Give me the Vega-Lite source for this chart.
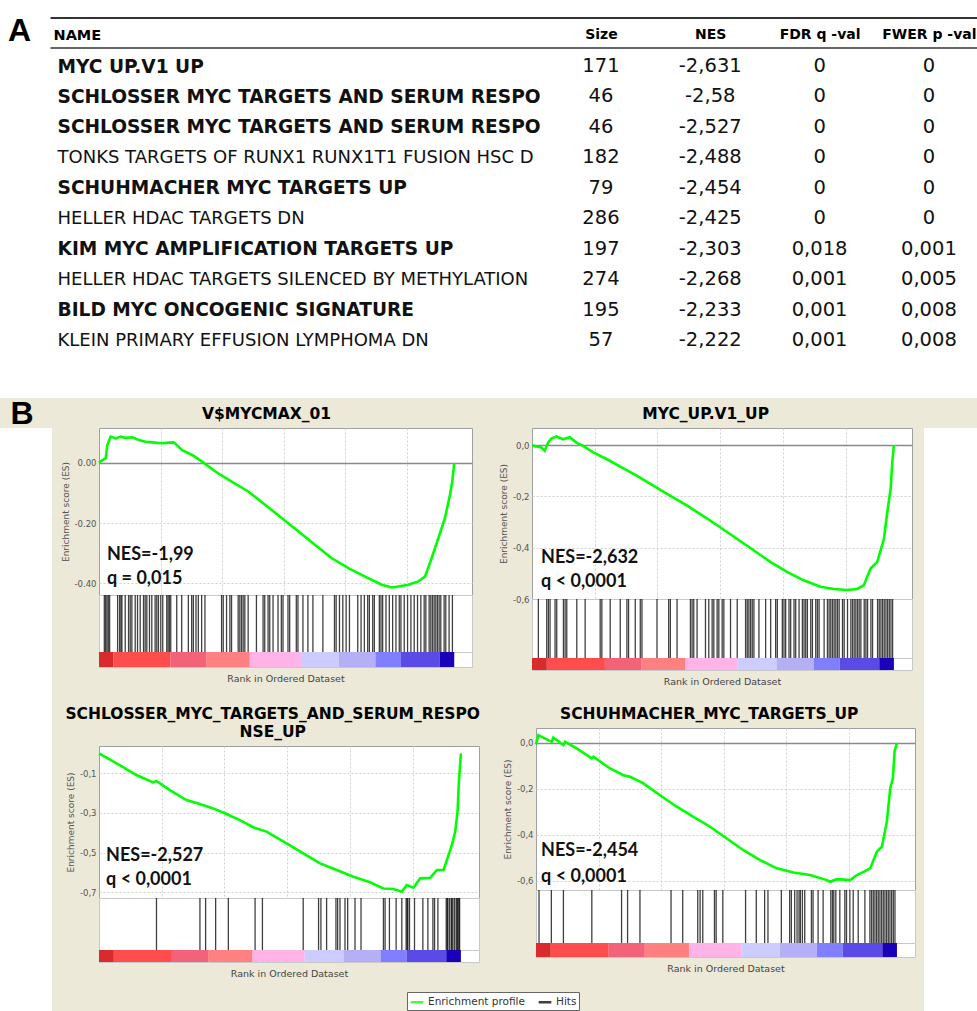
{
"$schema": "https://vega.github.io/schema/vega-lite/v6.json",
"background": "#ECE9D8",
"padding": 0,
"autosize": {"type": "pad"},
"config": {
  "locale": {"number": {"decimal": ",", "thousands": ".", "grouping": [3], "currency": ["", ""], "minus": "-"}},
  "font": "DejaVu Sans",
  "view": {"stroke": null},
  "title": {"font": "DejaVu Sans", "fontWeight": "bold", "fontSize": 15.5, "color": "#000000", "anchor": "middle", "frame": "bounds", "offset": 6},
  "axis": {"labelFont": "DejaVu Sans", "titleFont": "DejaVu Sans"},
  "axisQuantitative": {"labelOverlap": false},
  "axisY": {"labelOverlap": false},
  "legend": {"orient": "none", "legendX": 407, "legendY": 992, "direction": "horizontal", "symbolType": "stroke", "symbolStrokeWidth": 2.5, "symbolSize": 160, "labelFont": "DejaVu Sans", "labelFontSize": 10.5, "labelColor": "#333333", "strokeColor": "#666666", "fillColor": "#ffffff", "padding": 2, "columnPadding": 8, "labelOffset": 3}
},
"datasets": {
  "table": [
    {"name": "MYC UP.V1 UP", "Size": 171, "NES": -2.631, "FDR q -val": 0, "FWER p -val": 0},
    {"name": "SCHLOSSER MYC TARGETS AND SERUM RESPONSE DN", "Size": 46, "NES": -2.58, "FDR q -val": 0, "FWER p -val": 0},
    {"name": "SCHLOSSER MYC TARGETS AND SERUM RESPONSE UP", "Size": 46, "NES": -2.527, "FDR q -val": 0, "FWER p -val": 0},
    {"name": "TONKS TARGETS OF RUNX1 RUNX1T1 FUSION HSC DN", "Size": 182, "NES": -2.488, "FDR q -val": 0, "FWER p -val": 0},
    {"name": "SCHUHMACHER MYC TARGETS UP", "Size": 79, "NES": -2.454, "FDR q -val": 0, "FWER p -val": 0},
    {"name": "HELLER HDAC TARGETS DN", "Size": 286, "NES": -2.425, "FDR q -val": 0, "FWER p -val": 0},
    {"name": "KIM MYC AMPLIFICATION TARGETS UP", "Size": 197, "NES": -2.303, "FDR q -val": 0.018, "FWER p -val": 0.001},
    {"name": "HELLER HDAC TARGETS SILENCED BY METHYLATION", "Size": 274, "NES": -2.268, "FDR q -val": 0.001, "FWER p -val": 0.005},
    {"name": "BILD MYC ONCOGENIC SIGNATURE", "Size": 195, "NES": -2.233, "FDR q -val": 0.001, "FWER p -val": 0.008},
    {"name": "KLEIN PRIMARY EFFUSION LYMPHOMA DN", "Size": 57, "NES": -2.222, "FDR q -val": 0.001, "FWER p -val": 0.008}
  ],
  "columns": [
    {"column": "Size", "order": 1},
    {"column": "NES", "order": 2},
    {"column": "FDR q -val", "order": 3},
    {"column": "FWER p -val", "order": 4}
  ],
  "bar": [
    {"start": 0, "end": 820, "metric": 2.0},
    {"start": 820, "end": 4030, "metric": 1.5},
    {"start": 4030, "end": 6030, "metric": 1.0},
    {"start": 6030, "end": 8490, "metric": 0.6},
    {"start": 8490, "end": 11370, "metric": 0.2},
    {"start": 11370, "end": 13510, "metric": -0.2},
    {"start": 13510, "end": 15560, "metric": -0.6},
    {"start": 15560, "end": 17000, "metric": -1.0},
    {"start": 17000, "end": 19190, "metric": -1.5},
    {"start": 19190, "end": 20000, "metric": -2.0}
  ],
  "es1": [
    {"rank": 0, "es": 0.0}, {"rank": 187, "es": 0.009}, {"rank": 375, "es": 0.015}, {"rank": 468, "es": 0.059}, {"rank": 655, "es": 0.087}, {"rank": 936, "es": 0.081}, {"rank": 1217, "es": 0.087}, {"rank": 1498, "es": 0.083}, {"rank": 1873, "es": 0.085}, {"rank": 2247, "es": 0.076}, {"rank": 2622, "es": 0.070}, {"rank": 2996, "es": 0.068}, {"rank": 3558, "es": 0.065}, {"rank": 3933, "es": 0.067}, {"rank": 4213, "es": 0.068}, {"rank": 4682, "es": 0.042}, {"rank": 5244, "es": 0.026}, {"rank": 5806, "es": 0.004}, {"rank": 6554, "es": -0.029}, {"rank": 7491, "es": -0.063}, {"rank": 8427, "es": -0.096}, {"rank": 9363, "es": -0.140}, {"rank": 10300, "es": -0.184}, {"rank": 11236, "es": -0.228}, {"rank": 12172, "es": -0.273}, {"rank": 13109, "es": -0.317}, {"rank": 14045, "es": -0.350}, {"rank": 14981, "es": -0.378}, {"rank": 15918, "es": -0.405}, {"rank": 16480, "es": -0.414}, {"rank": 16854, "es": -0.411}, {"rank": 17416, "es": -0.405}, {"rank": 17978, "es": -0.394}, {"rank": 18352, "es": -0.378}, {"rank": 18727, "es": -0.317}, {"rank": 19101, "es": -0.251}, {"rank": 19476, "es": -0.184}, {"rank": 19757, "es": -0.107}, {"rank": 19888, "es": -0.063}, {"rank": 20000, "es": 0.0}
  ],
  "es2": [
    {"rank": 0, "es": 0.0}, {"rank": 240, "es": -0.005}, {"rank": 517, "es": -0.009}, {"rank": 702, "es": -0.022}, {"rank": 887, "es": 0.010}, {"rank": 1071, "es": 0.026}, {"rank": 1348, "es": 0.034}, {"rank": 1718, "es": 0.023}, {"rank": 2087, "es": 0.031}, {"rank": 2457, "es": 0.010}, {"rank": 2826, "es": -0.003}, {"rank": 3380, "es": -0.028}, {"rank": 4119, "es": -0.054}, {"rank": 4858, "es": -0.083}, {"rank": 5781, "es": -0.119}, {"rank": 6705, "es": -0.158}, {"rank": 7628, "es": -0.197}, {"rank": 8552, "es": -0.235}, {"rank": 9475, "es": -0.277}, {"rank": 10399, "es": -0.320}, {"rank": 11322, "es": -0.365}, {"rank": 12246, "es": -0.410}, {"rank": 13169, "es": -0.455}, {"rank": 14093, "es": -0.494}, {"rank": 15016, "es": -0.527}, {"rank": 15940, "es": -0.552}, {"rank": 16679, "es": -0.561}, {"rank": 17417, "es": -0.565}, {"rank": 17971, "es": -0.561}, {"rank": 18341, "es": -0.546}, {"rank": 18710, "es": -0.481}, {"rank": 19080, "es": -0.455}, {"rank": 19449, "es": -0.365}, {"rank": 19634, "es": -0.261}, {"rank": 19818, "es": -0.171}, {"rank": 19910, "es": -0.067}, {"rank": 20000, "es": 0.0}
  ],
  "es3": [
    {"rank": 0, "es": 0.0}, {"rank": 1144, "es": -0.059}, {"rank": 2066, "es": -0.109}, {"rank": 2989, "es": -0.146}, {"rank": 3173, "es": -0.139}, {"rank": 3911, "es": -0.185}, {"rank": 4834, "es": -0.235}, {"rank": 5572, "es": -0.255}, {"rank": 6310, "es": -0.277}, {"rank": 7048, "es": -0.305}, {"rank": 7786, "es": -0.336}, {"rank": 8524, "es": -0.372}, {"rank": 9262, "es": -0.394}, {"rank": 10369, "es": -0.453}, {"rank": 11291, "es": -0.503}, {"rank": 12214, "es": -0.554}, {"rank": 13136, "es": -0.587}, {"rank": 14059, "es": -0.621}, {"rank": 14981, "es": -0.649}, {"rank": 15719, "es": -0.680}, {"rank": 16273, "es": -0.683}, {"rank": 16734, "es": -0.696}, {"rank": 17011, "es": -0.663}, {"rank": 17380, "es": -0.676}, {"rank": 17749, "es": -0.629}, {"rank": 18302, "es": -0.626}, {"rank": 18671, "es": -0.587}, {"rank": 19040, "es": -0.587}, {"rank": 19317, "es": -0.512}, {"rank": 19502, "es": -0.461}, {"rank": 19686, "es": -0.394}, {"rank": 19815, "es": -0.294}, {"rank": 19889, "es": -0.143}, {"rank": 20000, "es": 0.0}
  ],
  "es4": [
    {"rank": 0, "es": -0.007}, {"rank": 129, "es": 0.033}, {"rank": 869, "es": 0.004}, {"rank": 961, "es": 0.022}, {"rank": 1515, "es": -0.010}, {"rank": 1608, "es": 0.004}, {"rank": 2255, "es": -0.025}, {"rank": 3086, "es": -0.068}, {"rank": 3179, "es": -0.061}, {"rank": 4103, "es": -0.112}, {"rank": 4842, "es": -0.141}, {"rank": 5211, "es": -0.148}, {"rank": 5951, "es": -0.177}, {"rank": 6875, "es": -0.228}, {"rank": 7799, "es": -0.278}, {"rank": 8723, "es": -0.322}, {"rank": 9647, "es": -0.365}, {"rank": 10571, "es": -0.416}, {"rank": 11495, "es": -0.467}, {"rank": 12419, "es": -0.510}, {"rank": 13343, "es": -0.546}, {"rank": 14267, "es": -0.564}, {"rank": 15191, "es": -0.575}, {"rank": 16115, "es": -0.597}, {"rank": 16299, "es": -0.604}, {"rank": 16669, "es": -0.593}, {"rank": 17409, "es": -0.597}, {"rank": 17778, "es": -0.575}, {"rank": 18147, "es": -0.561}, {"rank": 18518, "es": -0.546}, {"rank": 18887, "es": -0.474}, {"rank": 19164, "es": -0.452}, {"rank": 19441, "es": -0.343}, {"rank": 19626, "es": -0.199}, {"rank": 19774, "es": -0.155}, {"rank": 19866, "es": -0.039}, {"rank": 20000, "es": 0.0}
  ],
  "hits1": [
    {"rank": 300}, {"rank": 374}, {"rank": 449}, {"rank": 524}, {"rank": 598}, {"rank": 1047}, {"rank": 1159}, {"rank": 1234}, {"rank": 1290}, {"rank": 1477}, {"rank": 1664}, {"rank": 1758}, {"rank": 1851}, {"rank": 2038}, {"rank": 2169}, {"rank": 2319}, {"rank": 2506}, {"rank": 2599}, {"rank": 2693}, {"rank": 2842}, {"rank": 2973}, {"rank": 3160}, {"rank": 3254}, {"rank": 3347}, {"rank": 3478}, {"rank": 3590}, {"rank": 3815}, {"rank": 3890}, {"rank": 3965}, {"rank": 4039}, {"rank": 4376}, {"rank": 4656}, {"rank": 5030}, {"rank": 5217}, {"rank": 5311}, {"rank": 5460}, {"rank": 5591}, {"rank": 5778}, {"rank": 5965}, {"rank": 6900}, {"rank": 6994}, {"rank": 7181}, {"rank": 7368}, {"rank": 7462}, {"rank": 7836}, {"rank": 7929}, {"rank": 8023}, {"rank": 8116}, {"rank": 8210}, {"rank": 8397}, {"rank": 8864}, {"rank": 9238}, {"rank": 9331}, {"rank": 9518}, {"rank": 9612}, {"rank": 9799}, {"rank": 10079}, {"rank": 10266}, {"rank": 10360}, {"rank": 10640}, {"rank": 10734}, {"rank": 11108}, {"rank": 11201}, {"rank": 11482}, {"rank": 11762}, {"rank": 12043}, {"rank": 12604}, {"rank": 13258}, {"rank": 13352}, {"rank": 13539}, {"rank": 13726}, {"rank": 13913}, {"rank": 14100}, {"rank": 14567}, {"rank": 14754}, {"rank": 14941}, {"rank": 15128}, {"rank": 15222}, {"rank": 15409}, {"rank": 15502}, {"rank": 15783}, {"rank": 15876}, {"rank": 15970}, {"rank": 16157}, {"rank": 16344}, {"rank": 16531}, {"rank": 16718}, {"rank": 16905}, {"rank": 16998}, {"rank": 17185}, {"rank": 17372}, {"rank": 17559}, {"rank": 17746}, {"rank": 17933}, {"rank": 18120}, {"rank": 18307}, {"rank": 18401}, {"rank": 18588}, {"rank": 18682}, {"rank": 18775}, {"rank": 18869}, {"rank": 18962}, {"rank": 19056}, {"rank": 19150}, {"rank": 19243}, {"rank": 19430}, {"rank": 19523}, {"rank": 19710}, {"rank": 19897}
  ],
  "hits2": [
    {"rank": 351}, {"rank": 813}, {"rank": 905}, {"rank": 997}, {"rank": 1274}, {"rank": 1367}, {"rank": 1736}, {"rank": 1829}, {"rank": 1921}, {"rank": 2475}, {"rank": 2937}, {"rank": 3768}, {"rank": 3860}, {"rank": 4322}, {"rank": 4876}, {"rank": 5245}, {"rank": 5338}, {"rank": 5707}, {"rank": 5984}, {"rank": 6077}, {"rank": 6908}, {"rank": 7554}, {"rank": 7647}, {"rank": 8016}, {"rank": 8755}, {"rank": 8847}, {"rank": 8939}, {"rank": 9124}, {"rank": 9586}, {"rank": 9770}, {"rank": 9955}, {"rank": 10048}, {"rank": 10232}, {"rank": 10325}, {"rank": 10509}, {"rank": 10602}, {"rank": 10971}, {"rank": 11341}, {"rank": 11803}, {"rank": 11895}, {"rank": 11987}, {"rank": 12079}, {"rank": 12172}, {"rank": 12264}, {"rank": 12541}, {"rank": 12911}, {"rank": 13188}, {"rank": 13465}, {"rank": 13557}, {"rank": 13834}, {"rank": 13926}, {"rank": 14019}, {"rank": 14203}, {"rank": 14296}, {"rank": 14480}, {"rank": 14573}, {"rank": 14758}, {"rank": 14942}, {"rank": 15035}, {"rank": 15127}, {"rank": 15219}, {"rank": 15404}, {"rank": 15496}, {"rank": 15681}, {"rank": 15773}, {"rank": 15866}, {"rank": 16143}, {"rank": 16327}, {"rank": 16420}, {"rank": 16512}, {"rank": 16605}, {"rank": 16697}, {"rank": 16789}, {"rank": 16882}, {"rank": 16974}, {"rank": 17159}, {"rank": 17251}, {"rank": 17436}, {"rank": 17620}, {"rank": 17713}, {"rank": 17805}, {"rank": 17897}, {"rank": 17990}, {"rank": 18082}, {"rank": 18175}, {"rank": 18359}, {"rank": 18452}, {"rank": 18544}, {"rank": 18729}, {"rank": 18821}, {"rank": 19098}, {"rank": 19190}, {"rank": 19283}, {"rank": 19375}, {"rank": 19467}, {"rank": 19560}, {"rank": 19652}, {"rank": 19744}, {"rank": 19837}, {"rank": 19929}
  ],
  "hits3": [
    {"rank": 3177}, {"rank": 5578}, {"rank": 5892}, {"rank": 6446}, {"rank": 7148}, {"rank": 8625}, {"rank": 9031}, {"rank": 11285}, {"rank": 12134}, {"rank": 12264}, {"rank": 12578}, {"rank": 13095}, {"rank": 13188}, {"rank": 13317}, {"rank": 13594}, {"rank": 13742}, {"rank": 14148}, {"rank": 14480}, {"rank": 15718}, {"rank": 15810}, {"rank": 16050}, {"rank": 16420}, {"rank": 16734}, {"rank": 16974}, {"rank": 17030}, {"rank": 17067}, {"rank": 17159}, {"rank": 17436}, {"rank": 17897}, {"rank": 18175}, {"rank": 18452}, {"rank": 18544}, {"rank": 18729}, {"rank": 19190}, {"rank": 19246}, {"rank": 19283}, {"rank": 19375}, {"rank": 19467}, {"rank": 19504}, {"rank": 19560}, {"rank": 19652}, {"rank": 19744}, {"rank": 19799}, {"rank": 19837}, {"rank": 19892}, {"rank": 19929}
  ],
  "hits4": [
    {"rank": 167}, {"rank": 852}, {"rank": 1519}, {"rank": 3093}, {"rank": 4741}, {"rank": 5074}, {"rank": 5760}, {"rank": 7482}, {"rank": 8130}, {"rank": 8963}, {"rank": 9093}, {"rank": 9241}, {"rank": 9889}, {"rank": 9982}, {"rank": 10352}, {"rank": 11612}, {"rank": 12205}, {"rank": 12668}, {"rank": 12853}, {"rank": 13594}, {"rank": 14056}, {"rank": 14149}, {"rank": 14334}, {"rank": 14464}, {"rank": 14575}, {"rank": 14649}, {"rank": 14760}, {"rank": 14890}, {"rank": 15260}, {"rank": 15353}, {"rank": 15631}, {"rank": 15909}, {"rank": 16335}, {"rank": 16427}, {"rank": 16501}, {"rank": 16612}, {"rank": 16835}, {"rank": 17112}, {"rank": 17205}, {"rank": 17390}, {"rank": 17576}, {"rank": 17853}, {"rank": 18224}, {"rank": 18501}, {"rank": 18594}, {"rank": 18687}, {"rank": 18779}, {"rank": 18872}, {"rank": 18964}, {"rank": 19057}, {"rank": 19150}, {"rank": 19242}, {"rank": 19335}, {"rank": 19427}, {"rank": 19520}, {"rank": 19612}, {"rank": 19705}, {"rank": 19798}, {"rank": 19890}
  ]
},
"spacing": 0,
"vconcat": [
  {
    "width": 977, "height": 398,
    "view": {"fill": "#ffffff", "stroke": null},
    "title": {"text": "A", "anchor": "start", "frame": "group", "font": "Liberation Sans", "fontSize": 32, "fontWeight": "bold", "offset": -48, "dx": 8},
    "data": {"name": "table"},
    "transform": [
      {"fold": ["Size", "NES", "FDR q -val", "FWER p -val"], "as": ["column", "value"]},
      {"lookup": "column", "from": {"data": {"name": "columns"}, "key": "column", "fields": ["order"]}}
    ],
    "layer": [
      {
        "mark": {"type": "text", "font": "DejaVu Sans", "fontSize": 19.5, "color": "#111111", "baseline": "middle", "align": "center"},
        "encoding": {
          "x": {"field": "order", "type": "quantitative", "scale": {"domain": [-4.04, 4.44], "range": [50, 977], "nice": false, "zero": false},
                "axis": {"orient": "top", "offset": -17.5, "title": null, "values": [1, 2, 3, 4], "labelExpr": "['', 'Size', 'NES', 'FDR q -val', 'FWER p -val'][datum.value]", "labelAngle": 0, "labelFont": "DejaVu Sans", "labelFontWeight": "bold", "labelFontSize": 14, "labelColor": "#000000", "labelBaseline": "bottom", "labelPadding": -24, "labelOverlap": false, "ticks": false, "domain": true, "domainColor": "#333333", "domainWidth": 2, "grid": false}},
          "y": {"field": "name", "type": "nominal", "sort": null, "scale": {"type": "point", "range": [66, 340], "padding": 0},
                "axis": {"orient": "left", "title": "NAME", "titleAngle": 0, "titleAlign": "left", "titleBaseline": "middle", "titleX": 53, "titleY": 35, "titleFont": "DejaVu Sans", "titleFontWeight": "bold", "titleFontSize": 14.5, "titleColor": "#000000",
                         "labelAlign": "left", "labelBaseline": "middle", "labelPadding": -57, "labelLimit": 700, "labelFont": "DejaVu Sans", "labelColor": "#111111",
                         "labelExpr": "truncate(datum.label, indexof(datum.label, 'MYC') >= 0 ? 37 : 43, 'right', '')",
                         "labelFontSize": {"condition": {"test": "indexof(datum.value, 'MYC') >= 0", "value": 18.6}, "value": 18},
                         "labelFontWeight": {"condition": {"test": "indexof(datum.value, 'MYC') >= 0", "value": "bold"}, "value": "normal"},
                         "ticks": false, "domain": false, "grid": false}},
          "text": {"field": "value", "type": "quantitative", "format": ".3~f"}
        }
      },
      {
        "mark": {"type": "text", "text": ""},
        "encoding": {
          "x": {"field": "order", "type": "quantitative",
                "axis": {"orient": "bottom", "offset": -350.5, "title": null, "labels": false, "ticks": false, "domain": true, "domainColor": "#333333", "domainWidth": 1.5, "grid": false}}
        }
      }
    ],
    "resolve": {"axis": {"x": "independent"}}
  },
  {
    "spacing": 8,
    "hconcat": [
      {"width": 52, "height": 583, "view": {"fill": "#ffffff", "stroke": null},
       "title": {"text": "B", "anchor": "middle", "frame": "group", "font": "Liberation Sans", "fontSize": 32, "fontWeight": "bold", "baseline": "bottom", "offset": -35, "dx": -4, "color": "#000000"},
       "data": {"values": [{"label": ""}]},
       "mark": {"type": "text"}, "encoding": {"text": {"field": "label"}}},
      {
        "spacing": 20,
        "vconcat": [
          {
            "spacing": 25,
            "hconcat": [
              {
                "spacing": 0, "bounds": "flush",
                "vconcat": [
                  {
                    "width": 373, "height": 167,
                    "title": {"text": "V$MYCMAX_01"},
                    "view": {"fill": "#ffffff", "stroke": "#a0a0a0"},
                    "layer": [
                      {"data": {"name": "es1"}, "mark": {"type": "line", "strokeWidth": 2.6},
                       "encoding": {
                         "x": {"field": "rank", "type": "quantitative", "scale": {"domain": [0, 21000], "nice": false}, "axis": {"values": [3465, 6930, 10395, 13860, 17325], "grid": true, "labels": false, "ticks": false, "domain": false, "title": null, "gridDash": [2, 2], "gridColor": "#d0d0d0"}},
                         "y": {"field": "es", "type": "quantitative", "scale": {"domain": [-0.439, 0.1156], "nice": false, "zero": false}, "axis": {"values": [0.1, 0.05, 0, -0.05, -0.1, -0.15, -0.2, -0.25, -0.3, -0.35, -0.4], "labelExpr": "replace(format(datum.value, '.2f'), ',', '.')", "labelOverlap": false, "title": "Enrichment score (ES)", "grid": true,
                               "gridDash": {"condition": {"test": "datum.value === 0", "value": []}, "value": [2, 2]}, "gridColor": {"condition": {"test": "datum.value === 0", "value": "#8a8a8a"}, "value": "#d0d0d0"}, "gridWidth": {"condition": {"test": "datum.value === 0", "value": 1.5}, "value": 1},
                               "ticks": false, "domain": false, "labelFontSize": 8.5, "labelColor": "#555555", "titleFontSize": 9, "titleFontWeight": "normal", "titleColor": "#555555", "labelPadding": 3, "titlePadding": 4}},
                         "stroke": {"datum": "Enrichment profile", "type": "nominal", "scale": {"domain": ["Enrichment profile", "Hits"], "range": ["#00ff00", "#000000"]}, "legend": {"title": null}}
                       }},
                      {"data": {"values": [{"lines": ["NES=-1,99", "q = 0,015"]}]}, "mark": {"type": "text", "align": "left", "baseline": "middle", "font": "Lato", "fontWeight": "bold", "fontSize": 18, "lineHeight": 24, "color": "#111111"},
                       "encoding": {"x": {"datum": 450}, "y": {"datum": -0.306}, "text": {"field": "lines"}}}
                    ]
                  },
                  {
                    "width": 373, "height": 57,
                    "view": {"fill": "#ffffff", "stroke": "#c8c8c8"},
                    "data": {"name": "hits1"},
                    "mark": {"type": "rule", "strokeWidth": 1.3, "opacity": 0.75},
                    "encoding": {
                      "x": {"field": "rank", "type": "quantitative", "scale": {"domain": [0, 21000], "nice": false}, "axis": null},
                      "stroke": {"datum": "Hits", "type": "nominal", "scale": {"domain": ["Enrichment profile", "Hits"], "range": ["#00ff00", "#000000"]}, "legend": {"title": null}}
                    }
                  },
                  {
                    "width": 373, "height": 15,
                    "view": {"fill": "#ffffff", "stroke": "#c8c8c8"},
                    "data": {"name": "bar"},
                    "mark": {"type": "rect"},
                    "encoding": {
                      "x": {"field": "start", "type": "quantitative", "scale": {"domain": [0, 21000], "nice": false}, "axis": {"title": "Rank in Ordered Dataset", "labels": false, "ticks": false, "domain": false, "grid": false, "titleFontSize": 9.5, "titleFontWeight": "normal", "titleColor": "#444444", "titlePadding": 6}},
                      "x2": {"field": "end"},
                      "fill": {"field": "metric", "type": "quantitative", "scale": {"domain": [-2, -1.5, -1, -0.6, -0.2, 0.2, 0.6, 1, 1.5, 2], "range": ["#1a00b8", "#5a4ae6", "#7f7fff", "#b5b0f5", "#ccccff", "#ffb3e6", "#ff8080", "#f2637a", "#ff4d4d", "#d92b2b"]}, "legend": null}
                    }
                  }
                ]
              },
              {
                "spacing": 0, "bounds": "flush",
                "vconcat": [
                  {
                    "width": 380, "height": 171,
                    "title": {"text": "MYC_UP.V1_UP"},
                    "view": {"fill": "#ffffff", "stroke": "#a0a0a0"},
                    "layer": [
                      {"data": {"name": "es2"}, "mark": {"type": "line", "strokeWidth": 2.6},
                       "encoding": {
                         "x": {"field": "rank", "type": "quantitative", "scale": {"domain": [0, 21000], "nice": false}, "axis": {"values": [3465, 6930, 10395, 13860, 17325], "grid": true, "labels": false, "ticks": false, "domain": false, "title": null, "gridDash": [2, 2], "gridColor": "#d0d0d0"}},
                         "y": {"field": "es", "type": "quantitative", "scale": {"domain": [-0.6, 0.067], "nice": false, "zero": false}, "axis": {"values": [0, -0.1, -0.2, -0.3, -0.4, -0.5, -0.6], "format": ".1f", "labelOverlap": false, "title": "Enrichment score (ES)", "grid": true,
                               "gridDash": {"condition": {"test": "datum.value === 0", "value": []}, "value": [2, 2]}, "gridColor": {"condition": {"test": "datum.value === 0", "value": "#8a8a8a"}, "value": "#d0d0d0"}, "gridWidth": {"condition": {"test": "datum.value === 0", "value": 1.5}, "value": 1},
                               "ticks": false, "domain": false, "labelFontSize": 8.5, "labelColor": "#555555", "titleFontSize": 9, "titleFontWeight": "normal", "titleColor": "#555555", "labelPadding": 3, "titlePadding": 4}},
                         "stroke": {"datum": "Enrichment profile", "type": "nominal", "scale": {"domain": ["Enrichment profile", "Hits"], "range": ["#00ff00", "#000000"]}, "legend": {"title": null}}
                       }},
                      {"data": {"values": [{"lines": ["NES=-2,632", "q < 0,0001"]}]}, "mark": {"type": "text", "align": "left", "baseline": "middle", "font": "Lato", "fontWeight": "bold", "fontSize": 18, "lineHeight": 24, "color": "#111111"},
                       "encoding": {"x": {"datum": 500}, "y": {"datum": -0.44}, "text": {"field": "lines"}}}
                    ]
                  },
                  {
                    "width": 380, "height": 59,
                    "view": {"fill": "#ffffff", "stroke": "#c8c8c8"},
                    "data": {"name": "hits2"},
                    "mark": {"type": "rule", "strokeWidth": 1.3, "opacity": 0.75},
                    "encoding": {
                      "x": {"field": "rank", "type": "quantitative", "scale": {"domain": [0, 21000], "nice": false}, "axis": null},
                      "stroke": {"datum": "Hits", "type": "nominal", "scale": {"domain": ["Enrichment profile", "Hits"], "range": ["#00ff00", "#000000"]}, "legend": {"title": null}}
                    }
                  },
                  {
                    "width": 380, "height": 12,
                    "view": {"fill": "#ffffff", "stroke": "#c8c8c8"},
                    "data": {"name": "bar"},
                    "mark": {"type": "rect"},
                    "encoding": {
                      "x": {"field": "start", "type": "quantitative", "scale": {"domain": [0, 21000], "nice": false}, "axis": {"title": "Rank in Ordered Dataset", "labels": false, "ticks": false, "domain": false, "grid": false, "titleFontSize": 9.5, "titleFontWeight": "normal", "titleColor": "#444444", "titlePadding": 6}},
                      "x2": {"field": "end"},
                      "fill": {"field": "metric", "type": "quantitative", "scale": {"domain": [-2, -1.5, -1, -0.6, -0.2, 0.2, 0.6, 1, 1.5, 2], "range": ["#1a00b8", "#5a4ae6", "#7f7fff", "#b5b0f5", "#ccccff", "#ffb3e6", "#ff8080", "#f2637a", "#ff4d4d", "#d92b2b"]}, "legend": null}
                    }
                  }
                ]
              }
            ]
          },
          {
            "spacing": 21,
            "hconcat": [
              {
                "spacing": 0, "bounds": "flush",
                "vconcat": [
                  {"width": 380, "height": 18, "data": {"values": [{"label": ""}]}, "mark": {"type": "text"}, "encoding": {"text": {"field": "label"}}},
                  {
                    "width": 380, "height": 152,
                    "title": {"text": ["SCHLOSSER_MYC_TARGETS_AND_SERUM_RESPO", "NSE_UP"], "lineHeight": 18},
                    "view": {"fill": "#ffffff", "stroke": "#a0a0a0"},
                    "layer": [
                      {"data": {"name": "es3"}, "mark": {"type": "line", "strokeWidth": 2.6},
                       "encoding": {
                         "x": {"field": "rank", "type": "quantitative", "scale": {"domain": [0, 21000], "nice": false}, "axis": {"values": [3465, 6930, 10395, 13860, 17325], "grid": true, "labels": false, "ticks": false, "domain": false, "title": null, "gridDash": [2, 2], "gridColor": "#d0d0d0"}},
                         "y": {"field": "es", "type": "quantitative", "scale": {"domain": [-0.728, 0.037], "nice": false, "zero": false}, "axis": {"values": [0, -0.1, -0.2, -0.3, -0.4, -0.5, -0.6, -0.7], "format": ".1f", "labelOverlap": false, "title": "Enrichment score (ES)", "grid": true,
                               "gridDash": {"condition": {"test": "datum.value === 0", "value": []}, "value": [2, 2]}, "gridColor": {"condition": {"test": "datum.value === 0", "value": "#8a8a8a"}, "value": "#d0d0d0"}, "gridWidth": {"condition": {"test": "datum.value === 0", "value": 1.5}, "value": 1},
                               "ticks": false, "domain": false, "labelFontSize": 8.5, "labelColor": "#555555", "titleFontSize": 9, "titleFontWeight": "normal", "titleColor": "#555555", "labelPadding": 3, "titlePadding": 4}},
                         "stroke": {"datum": "Enrichment profile", "type": "nominal", "scale": {"domain": ["Enrichment profile", "Hits"], "range": ["#00ff00", "#000000"]}, "legend": {"title": null}}
                       }},
                      {"data": {"values": [{"lines": ["NES=-2,527", "q < 0,0001"]}]}, "mark": {"type": "text", "align": "left", "baseline": "middle", "font": "Lato", "fontWeight": "bold", "fontSize": 18, "lineHeight": 24, "color": "#111111"},
                       "encoding": {"x": {"datum": 390}, "y": {"datum": -0.517}, "text": {"field": "lines"}}}
                    ]
                  },
                  {
                    "width": 380, "height": 52,
                    "view": {"fill": "#ffffff", "stroke": "#c8c8c8"},
                    "data": {"name": "hits3"},
                    "mark": {"type": "rule", "strokeWidth": 1.3, "opacity": 0.75},
                    "encoding": {
                      "x": {"field": "rank", "type": "quantitative", "scale": {"domain": [0, 21000], "nice": false}, "axis": null},
                      "stroke": {"datum": "Hits", "type": "nominal", "scale": {"domain": ["Enrichment profile", "Hits"], "range": ["#00ff00", "#000000"]}, "legend": {"title": null}}
                    }
                  },
                  {
                    "width": 380, "height": 12,
                    "view": {"fill": "#ffffff", "stroke": "#c8c8c8"},
                    "data": {"name": "bar"},
                    "mark": {"type": "rect"},
                    "encoding": {
                      "x": {"field": "start", "type": "quantitative", "scale": {"domain": [0, 21000], "nice": false}, "axis": {"title": "Rank in Ordered Dataset", "labels": false, "ticks": false, "domain": false, "grid": false, "titleFontSize": 9.5, "titleFontWeight": "normal", "titleColor": "#444444", "titlePadding": 6}},
                      "x2": {"field": "end"},
                      "fill": {"field": "metric", "type": "quantitative", "scale": {"domain": [-2, -1.5, -1, -0.6, -0.2, 0.2, 0.6, 1, 1.5, 2], "range": ["#1a00b8", "#5a4ae6", "#7f7fff", "#b5b0f5", "#ccccff", "#ffb3e6", "#ff8080", "#f2637a", "#ff4d4d", "#d92b2b"]}, "legend": null}
                    }
                  }
                ]
              },
              {
                "spacing": 0, "bounds": "flush",
                "vconcat": [
                  {
                    "width": 379, "height": 162,
                    "title": {"text": "SCHUHMACHER_MYC_TARGETS_UP"},
                    "view": {"fill": "#ffffff", "stroke": "#a0a0a0"},
                    "layer": [
                      {"data": {"name": "es4"}, "mark": {"type": "line", "strokeWidth": 2.6},
                       "encoding": {
                         "x": {"field": "rank", "type": "quantitative", "scale": {"domain": [0, 21000], "nice": false}, "axis": {"values": [3465, 6930, 10395, 13860, 17325], "grid": true, "labels": false, "ticks": false, "domain": false, "title": null, "gridDash": [2, 2], "gridColor": "#d0d0d0"}},
                         "y": {"field": "es", "type": "quantitative", "scale": {"domain": [-0.64, 0.064], "nice": false, "zero": false}, "axis": {"values": [0, -0.1, -0.2, -0.3, -0.4, -0.5, -0.6], "format": ".1f", "labelOverlap": false, "title": "Enrichment score (ES)", "grid": true,
                               "gridDash": {"condition": {"test": "datum.value === 0", "value": []}, "value": [2, 2]}, "gridColor": {"condition": {"test": "datum.value === 0", "value": "#8a8a8a"}, "value": "#d0d0d0"}, "gridWidth": {"condition": {"test": "datum.value === 0", "value": 1.5}, "value": 1},
                               "ticks": false, "domain": false, "labelFontSize": 8.5, "labelColor": "#555555", "titleFontSize": 9, "titleFontWeight": "normal", "titleColor": "#555555", "labelPadding": 3, "titlePadding": 4}},
                         "stroke": {"datum": "Enrichment profile", "type": "nominal", "scale": {"domain": ["Enrichment profile", "Hits"], "range": ["#00ff00", "#000000"]}, "legend": {"title": null}}
                       }},
                      {"data": {"values": [{"lines": ["NES=-2,454", "q < 0,0001"]}]}, "mark": {"type": "text", "align": "left", "baseline": "middle", "font": "Lato", "fontWeight": "bold", "fontSize": 18, "lineHeight": 26, "color": "#111111"},
                       "encoding": {"x": {"datum": 280}, "y": {"datum": -0.471}, "text": {"field": "lines"}}}
                    ]
                  },
                  {
                    "width": 379, "height": 53,
                    "view": {"fill": "#ffffff", "stroke": "#c8c8c8"},
                    "data": {"name": "hits4"},
                    "mark": {"type": "rule", "strokeWidth": 1.3, "opacity": 0.75},
                    "encoding": {
                      "x": {"field": "rank", "type": "quantitative", "scale": {"domain": [0, 21000], "nice": false}, "axis": null},
                      "stroke": {"datum": "Hits", "type": "nominal", "scale": {"domain": ["Enrichment profile", "Hits"], "range": ["#00ff00", "#000000"]}, "legend": {"title": null}}
                    }
                  },
                  {
                    "width": 379, "height": 14,
                    "view": {"fill": "#ffffff", "stroke": "#c8c8c8"},
                    "data": {"name": "bar"},
                    "mark": {"type": "rect"},
                    "encoding": {
                      "x": {"field": "start", "type": "quantitative", "scale": {"domain": [0, 21000], "nice": false}, "axis": {"title": "Rank in Ordered Dataset", "labels": false, "ticks": false, "domain": false, "grid": false, "titleFontSize": 9.5, "titleFontWeight": "normal", "titleColor": "#444444", "titlePadding": 6}},
                      "x2": {"field": "end"},
                      "fill": {"field": "metric", "type": "quantitative", "scale": {"domain": [-2, -1.5, -1, -0.6, -0.2, 0.2, 0.6, 1, 1.5, 2], "range": ["#1a00b8", "#5a4ae6", "#7f7fff", "#b5b0f5", "#ccccff", "#ffb3e6", "#ff8080", "#f2637a", "#ff4d4d", "#d92b2b"]}, "legend": null}
                    }
                  }
                ]
              }
            ]
          }
        ]
      },
      {"width": 55, "height": 583, "view": {"fill": "#ffffff", "stroke": null}, "data": {"values": [{"label": ""}]},
       "mark": {"type": "text"}, "encoding": {"text": {"field": "label"}}}
    ]
  }
]
}
